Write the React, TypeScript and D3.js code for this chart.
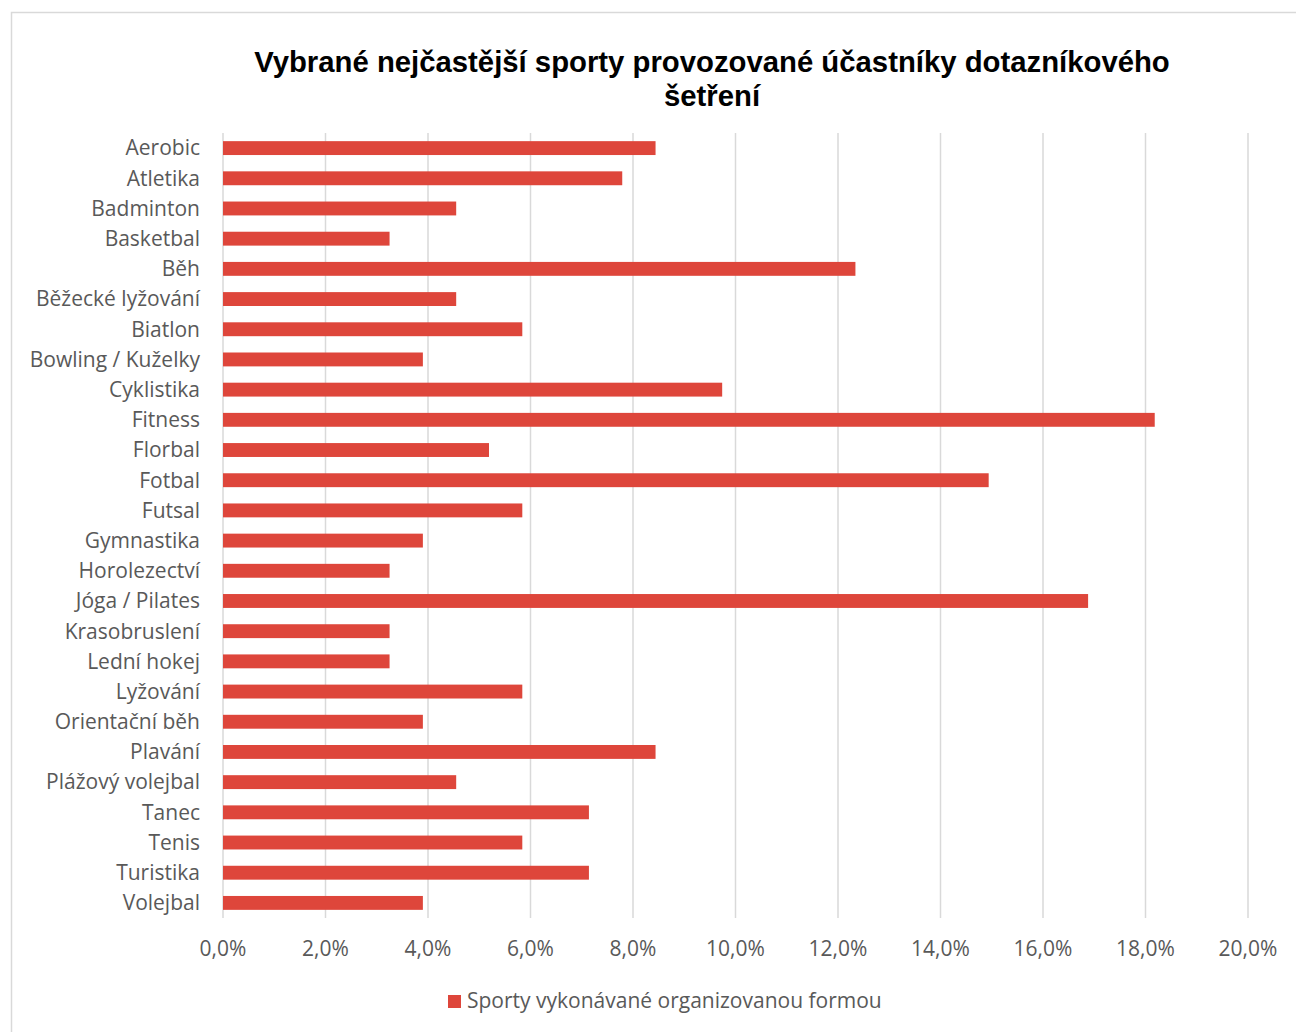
import React from "react";
import * as d3 from "d3";

const categories = [
  "Aerobic", "Atletika", "Badminton", "Basketbal", "Běh", "Běžecké lyžování", "Biatlon",
  "Bowling / Kuželky", "Cyklistika", "Fitness", "Florbal", "Fotbal", "Futsal", "Gymnastika",
  "Horolezectví", "Jóga / Pilates", "Krasobruslení", "Lední hokej", "Lyžování", "Orientační běh",
  "Plavání", "Plážový volejbal", "Tanec", "Tenis", "Turistika", "Volejbal",
];
const values = [
  8.44, 7.79, 4.55, 3.25, 12.34, 4.55, 5.84,
  3.9, 9.74, 18.18, 5.19, 14.94, 5.84, 3.9,
  3.25, 16.88, 3.25, 3.25, 5.84, 3.9,
  8.44, 4.55, 7.14, 5.84, 7.14, 3.9,
];
const xTicks = [0, 2, 4, 6, 8, 10, 12, 14, 16, 18, 20];
const titleLines = ["Vybrané nejčastější sporty provozované účastníky dotazníkového", "šetření"];
const seriesName = "Sporty vykonávané organizovanou formou";

const W = 1296, H = 1032;
const BAR = "#de463b";
const GRID = "#d9d9d9";
const TXT = "#595959";
const FONT = "'Open Sans', sans-serif";
const FS = 21;

export default function App() {
  const x = d3.scaleLinear().domain([0, 20]).range([223, 1248]);
  const y = d3.scaleBand<string>().domain(categories).range([133, 918]).paddingInner(0.54).paddingOuter(0.27);
  const fmt = (v: number) => v.toFixed(1).replace(".", ",") + "%";
  return (
    <svg width={W} height={H} style={{ position: "absolute", left: 0, top: 0, background: "#fff" }}>
      <rect x={11.5} y={12.5} width={W + 10} height={H + 10} fill="#fff" stroke={GRID} strokeWidth={1.5} />
      {titleLines.map((t, i) => (
        <text key={i} x={712} y={72 + i * 34} textAnchor="middle" fontFamily="'Liberation Sans', Arial, sans-serif"
          fontWeight="bold" fontSize={29.3} fill="#000">{t}</text>
      ))}
      {xTicks.map((t) => (
        <g key={t}>
          <line x1={x(t)} x2={x(t)} y1={133} y2={918} stroke={GRID} strokeWidth={1.5} />
          <text x={x(t)} y={956} textAnchor="middle" fontFamily={FONT} fontSize={FS} fill={TXT}>{fmt(t)}</text>
        </g>
      ))}
      {categories.map((c, i) => (
        <g key={c}>
          <rect x={x(0)} y={y(c)!} width={x(values[i]) - x(0)} height={y.bandwidth()} fill={BAR} />
          <text x={200} y={y(c)! + y.bandwidth() / 2} dy="0.35em" textAnchor="end" fontFamily={FONT}
            fontSize={FS} fill={TXT}>{c}</text>
        </g>
      ))}
      <rect x={448} y={995} width={13} height={13} fill={BAR} />
      <text x={467} y={1008} fontFamily={FONT} fontSize={FS} fill={TXT}>{seriesName}</text>
    </svg>
  );
}
